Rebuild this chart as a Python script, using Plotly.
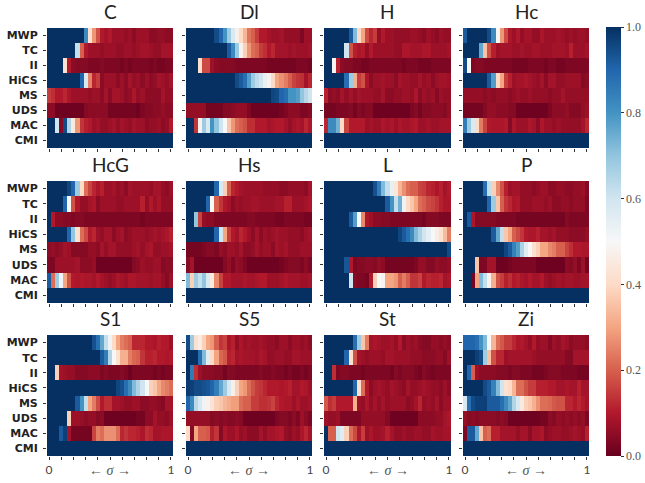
import plotly.graph_objects as go

rows = ["MWP", "TC", "II", "HiCS", "MS", "UDS", "MAC", "CMI"]
titles = ["C", "Dl", "H", "Hc", "HcG", "Hs", "L", "P", "S1", "S5", "St", "Zi"]
colorbar_ticks = [0.0, 0.2, 0.4, 0.6, 0.8, 1.0]
cmi = [100] * 31

# values in percent, one list per row (CMI is solid 1.0 in every panel)
C = [
 [100]*9 + [82,42,28,18,10,8,10,7,7,7,6,7,5,7,7,7,5,5,6,6,5,5],
 [100]*7 + [62,20,10,7,7,7,6,7,7,7,6,6,7,7,6,7,8,8,7,6,6,8,8,8],
 [100]*4 + [42,10,5,4,4,4,3,3,3,4,3,3,3,3,2,3,2,3,3,3,3,2,3,2,2,3,3],
 [100]*8 + [90,58,25,12,15,5,7,7,7,5,7,5,8,6,7,5,7,5,6,8,7,6,8],
 [15,13,10,10,12,9,7,7,7,7,6,7,7,5,8,5,8,8,7,5,6,9,6,7,5,5,5,5,8,6,6],
 [5,5,1,1,1,1,1,1,1,4,5,5,5,5,5,2,2,2,2,2,2,2,1,3,4,4,5,5,6,5,5],
 [100,100,60,4,95,65,45,28,14,11,10,7,8,6,6,7,8,6,8,7,6,8,7,7,5,6,6,7,5,6,10],
 cmi]
Dl = [
 [100]*7 + [95,90,80,68,58,47,40,33,23,20,15,10,10,8,7,7,8,6,6,6,6,3,7,7],
 [100]*10 + [92,82,68,48,38,28,22,20,15,13,10,12,8,8,8,7,8,7,7,7,8],
 [100]*3 + [42,17,17,7,5,4,4,4,4,3,3,3,3,3,3,3,3,2,2,2,2,2,2,2,3,3,3,2],
 [100]*12 + [95,92,88,78,68,63,60,54,48,40,30,27,24,20,16,14,13,8,12],
 [100]*21 + [96,95,90,88,80,80,78,70,64,60],
 [6,6,6,6,6,2,2,2,2,4,4,5,6,6,6,3,1,1,1,1,1,1,1,2,3,5,5,5,3,3,4],
 [100,100,14,48,68,58,80,70,60,50,36,28,22,20,18,13,13,10,10,10,8,9,10,10,8,6,8,9,8,12,9],
 cmi]
H = [
 [100]*6 + [92,72,40,30,17,12,15,6,10,7,7,6,6,6,6,7,7,6,5,7,6,5,7,6,6],
 [100]*5 + [60,18,11,9,10,6,10,7,7,7,7,7,6,6,9,9,8,8,8,9,9,7,7,7,7,8],
 [100]*2 + [49,11,5,4,4,3,3,2,2,3,3,3,3,3,3,3,3,2,3,3,3,2,2,2,3,3,3,3,3],
 [100]*5 + [88,68,32,15,18,9,5,7,7,8,7,7,5,8,7,7,6,6,8,6,7,5,7,8,8,7],
 [11,5,6,5,8,6,8,6,8,7,7,7,6,6,8,5,5,6,6,7,7,6,9,5,7,6,7,4,7,6,6],
 [2,2,2,3,3,3,4,2,4,3,4,4,1,1,1,1,1,1,1,1,1,3,4,2,4,4,5,5,5,4,6],
 [12,82,82,74,40,16,10,10,10,10,7,8,7,7,9,8,9,7,9,8,8,9,10,7,7,8,7,7,8,8,8],
 cmi]
Hc = [
 [92,100,100,100,100,100,95,82,50,28,17,9,7,10,6,8,8,6,6,9,7,7,7,8,7,6,7,6,7,7,6],
 [100]*4 + [76,35,18,11,7,8,8,8,7,7,8,7,7,8,8,7,7,7,8,8,8,7,11,7,7,7,8],
 [95,50,3,4,4,3,3,3,3,3,3,3,2,2,2,2,3,3,3,3,2,3,3,2,2,3,3,3,3,3,3],
 [100]*6 + [92,78,40,30,15,11,7,8,8,9,8,7,6,8,5,8,8,6,6,7,7,7,7,4,5],
 [6,6,6,6,6,5,6,5,6,6,6,5,6,7,6,6,7,6,6,6,6,5,6,6,8,6,6,6,6,6,6],
 [2,2,2,2,2,4,6,6,5,5,5,4,4,1,1,1,1,1,1,1,1,3,5,5,5,6,4,4,4,6,7],
 [85,68,58,40,24,16,10,9,9,9,10,4,9,7,7,7,9,8,5,9,7,7,6,7,6,6,6,6,6,8,12],
 cmi]
HcG = [
 [100]*5 + [96,90,68,40,22,16,12,9,11,7,7,8,6,7,5,8,7,7,7,7,6,8,8,6,5,7],
 [100]*4 + [90,50,18,10,6,6,8,9,5,7,7,7,7,6,6,7,7,7,7,11,6,10,7,9,6,6,6],
 [100,10,5,5,4,4,3,4,4,3,3,3,3,3,3,3,3,3,3,3,3,3,3,2,3,3,3,3,3,3,3],
 [100]*5 + [90,70,42,22,17,10,12,7,6,8,8,5,7,8,5,6,7,7,7,6,7,8,7,8,9,11],
 [5,6,5,6,8,7,4,4,4,4,6,6,5,8,6,8,8,6,6,6,6,7,8,6,8,9,6,6,7,7,8],
 [3,3,7,7,7,7,7,8,5,5,5,6,1,1,1,1,1,1,1,1,1,4,5,7,6,6,7,7,4,5,5],
 [92,22,68,52,30,18,10,9,10,9,9,8,10,8,7,6,7,9,8,7,9,9,8,8,8,7,8,8,6,4,7],
 cmi]
Hs = [
 [100]*7 + [90,58,38,20,12,10,8,7,7,7,7,7,6,6,6,6,5,5,6,6,6,6,5,8],
 [100]*5 + [90,50,20,14,10,8,5,7,6,7,7,8,8,7,7,7,7,8,8,11,11,7,7,7,8,9],
 [100,100,70,16,6,5,5,3,3,3,3,3,3,3,3,4,4,3,3,3,3,3,2,2,3,3,3,3,3,2,2],
 [100]*7 + [90,60,30,15,10,8,12,10,7,5,8,5,7,6,7,8,7,7,6,6,6,5,7,8],
 [2,2,2,2,3,4,4,3,6,5,7,7,6,8,5,5,6,8,6,7,7,5,8,7,8,6,6,6,7,7,7],
 [4,8,1,1,1,1,1,1,1,4,6,3,6,5,3,1,1,1,1,1,1,1,1,2,3,4,4,4,3,5,3],
 [72,38,68,62,70,58,45,26,16,10,10,8,8,8,9,8,8,9,10,10,7,7,7,8,9,8,8,8,7,7,8],
 cmi]
L = [
 [100]*12 + [94,85,72,62,54,44,33,27,22,20,20,16,15,12,11,9,11,8,10],
 [100]*15 + [92,80,62,74,52,40,36,30,22,20,17,16,14,11,9,9],
 [100]*6 + [92,78,50,26,9,7,5,5,4,4,3,3,3,3,3,3,3,3,2,4,4,4,3,3,3],
 [100]*18 + [96,92,88,82,72,66,60,55,50,46,42,34,24],
 [100]*30 + [95],
 [100]*5 + [93,10,3,4,4,5,5,4,6,5,2,2,2,2,2,2,2,3,6,6,4,4,6,5,5,6],
 [100]*6 + [60,4,3,3,2,10,38,50,48,30,30,28,20,24,20,14,14,16,10,12,11,11,12,8,9],
 cmi]
P = [
 [100]*5 + [88,62,38,26,18,11,7,8,8,6,6,6,5,6,7,7,5,5,6,6,5,5,6,6,7,4],
 [100]*6 + [90,68,36,20,14,12,9,10,6,6,6,7,7,7,6,7,5,5,6,6,5,6,6,6,3],
 [100,92,9,4,4,4,4,4,3,3,3,3,3,2,2,2,2,2,2,2,2,2,2,2,2,4,3,3,3,3,3],
 [100]*7 + [92,76,62,36,30,20,17,14,10,9,9,11,8,8,7,8,6,6,6,5,5,5,5,6],
 [100]*10 + [96,92,84,78,66,56,50,42,38,30,30,26,24,20,20,16,13,10,10,9,9],
 [100]*3 + [36,3,3,8,8,1,1,1,2,3,3,3,3,3,3,1,1,1,1,1,1,1,5,4,6,3,7,2],
 [100,100,2,30,72,62,48,32,18,15,11,13,10,11,9,8,10,8,8,10,7,6,7,8,7,8,8,7,7,8,8],
 cmi]
S1 = [
 [100]*11 + [94,88,76,62,52,40,30,24,22,20,12,12,12,10,10,9,11,10,10,7],
 [100]*13 + [92,85,65,50,42,32,32,24,21,20,14,11,11,12,10,10,9,10],
 [100,100,38,8,7,6,6,4,4,4,5,5,5,3,4,3,3,3,4,3,1,3,3,3,3,3,2,3,2,3,3],
 [100]*17 + [96,94,88,82,72,66,60,50,38,36,30,26,24,22],
 [100]*7 + [92,80,62,30,24,17,10,13,13,8,8,7,6,6,7,7,5,5,6,6,5,4,8,8],
 [100]*5 + [38,7,7,6,5,6,6,4,5,1,1,1,1,1,1,1,1,2,2,5,5,8,6,6,5,7],
 [100,100,100,92,97,8,2,2,2,2,2,16,24,22,27,27,27,22,12,14,12,12,11,9,13,12,8,8,9,9,9],
 cmi]
S5 = [
 [95,68,42,46,38,30,28,20,14,16,9,11,6,9,7,8,7,7,8,7,6,6,5,7,7,5,7,7,6,7,5],
 [100,100,100,88,72,56,40,30,21,19,11,12,8,9,8,8,8,7,9,8,6,6,7,7,6,6,8,8,7,7,7],
 [100,85,13,7,5,5,5,4,4,2,4,4,3,3,3,3,3,3,4,3,3,4,3,3,2,3,2,2,3,2,3],
 [98,97,95,95,94,93,90,85,76,68,58,47,38,30,28,22,18,15,14,12,10,10,10,9,10,11,8,8,10,9,7],
 [90,82,64,58,52,48,43,38,36,33,31,29,29,22,20,20,15,15,13,13,14,16,12,10,9,9,7,9,7,7,8],
 [6,6,6,6,6,6,4,5,4,5,4,4,5,4,1,1,1,1,1,1,1,1,3,4,4,3,5,3,7,5,3],
 [40,4,30,20,20,19,11,14,4,9,7,7,9,6,7,5,5,5,8,6,8,8,9,10,6,5,7,6,9,12,8],
 cmi]
St = [
 [100]*7 + [88,68,36,24,8,9,8,7,7,8,6,10,5,7,6,7,5,4,4,6,6,5,6,5],
 [100]*5 + [90,42,18,8,7,6,7,7,7,6,8,8,7,7,7,7,6,6,6,5,5,5,6,6,4,7],
 [100,100,13,3,4,4,3,3,3,2,3,3,3,3,3,3,2,4,3,4,4,4,3,2,4,3,2,3,3,3,3],
 [100]*7 + [90,42,22,10,5,7,8,7,6,8,7,6,5,8,6,6,7,8,7,6,6,5,7,5],
 [19,13,15,10,10,10,10,32,7,6,9,6,8,6,8,6,7,7,7,7,5,6,8,12,6,7,6,8,5,7,7],
 [7,6,6,7,3,3,3,3,3,6,6,6,6,6,6,4,1,1,1,1,1,1,1,5,5,5,5,6,6,8,9],
 [100,20,20,60,56,38,22,17,9,15,7,9,7,7,8,11,8,6,6,7,6,6,7,7,6,6,8,7,7,8,8],
 cmi]
Zi = [
 [90,90,90,88,80,72,50,33,22,19,15,15,12,9,10,8,6,10,6,7,7,4,7,6,8,7,5,6,6,6,5],
 [100,100,100,97,95,68,35,18,12,12,7,8,8,8,8,8,8,7,6,6,6,6,6,6,6,4,4,8,8,8,8],
 [100,90,20,7,5,5,5,5,4,4,4,3,4,4,3,3,3,2,2,2,3,4,4,4,3,3,3,3,2,2,2],
 [100,100,100,100,100,95,92,84,72,60,42,40,33,22,22,18,15,15,11,11,11,10,10,8,8,9,8,8,11,8,8],
 [58,88,95,97,97,97,92,92,92,88,82,76,65,58,45,38,36,32,27,22,22,21,19,18,18,12,12,10,12,10,8],
 [6,4,5,4,5,5,5,5,4,5,4,1,1,1,1,1,1,1,1,2,2,5,4,6,5,6,5,6,5,6,3],
 [3,92,92,76,36,20,22,11,11,8,8,8,8,6,8,8,5,8,8,9,5,6,7,7,6,6,7,8,7,6,11],
 cmi]
panels = [C, Dl, H, Hc, HcG, Hs, L, P, S1, S5, St, Zi]

W, H_FIG = 645, 483
col_x = [(47, 173), (186, 312), (324, 451), (463, 589)]
row_y = [(28, 148), (181, 303), (335, 456)]
RDBU = [[0.0, "#67001f"], [0.1, "#b2182b"], [0.2, "#d6604d"], [0.3, "#f4a582"], [0.4, "#fddbc7"],
        [0.5, "#f7f7f7"], [0.6, "#d1e5f0"], [0.7, "#92c5de"], [0.8, "#4393c3"], [0.9, "#2166ac"], [1.0, "#053061"]]

fig = go.Figure()
xvals = list(range(0, 31, 3))
annotations = []
for i, (title, panel) in enumerate(zip(titles, panels)):
    r, c = divmod(i, 4)
    n = i + 1
    sfx = "" if n == 1 else str(n)
    x0, x1 = col_x[c]
    y0, y1 = row_y[r]
    fig.add_trace(go.Heatmap(z=[[v / 100 for v in row] for row in panel], x=list(range(31)), y=rows,
                             coloraxis="coloraxis", xaxis="x" + sfx, yaxis="y" + sfx, xgap=0, ygap=0))
    bottom = r == 2
    ticktext = [""] * 11
    if bottom:
        ticktext[0], ticktext[-1] = "0", "1"
    fig.layout["xaxis" + sfx] = dict(domain=[x0 / W, x1 / W], range=[-0.5, 30.5], anchor="y" + sfx,
                                     tickmode="array", tickvals=xvals, ticktext=ticktext, ticks="outside",
                                     ticklen=3, tickwidth=1, tickcolor="#333", showgrid=False, zeroline=False,
                                     tickfont=dict(family="Lato", size=12, color="#444"),
                                     showticklabels=bottom, fixedrange=True, automargin=False)
    fig.layout["yaxis" + sfx] = dict(domain=[1 - y1 / H_FIG, 1 - y0 / H_FIG], autorange="reversed",
                                     anchor="x" + sfx, ticks="outside", ticklen=3, tickwidth=1, tickcolor="#333",
                                     showgrid=False, zeroline=False, showticklabels=c == 0, ticklabelstandoff=3,
                                     tickfont=dict(family="DejaVu Sans", size=11, color="#222", weight="bold"),
                                     tickmode="array", tickvals=rows, ticktext=rows, fixedrange=True, automargin=False)
    annotations.append(dict(text=title, x=(x0 + x1) / 2 / W, y=1 - (y0 - 3) / H_FIG, xref="paper", yref="paper",
                            xanchor="center", yanchor="bottom", showarrow=False,
                            font=dict(family="Lato", size=19, color="#222")))
    if bottom:
        annotations.append(dict(text="← <i>σ</i> →", x=(x0 + x1) / 2 / W, y=1 - 470 / H_FIG, xref="paper", yref="paper",
                                xanchor="center", yanchor="middle", showarrow=False,
                                font=dict(family="Liberation Serif", size=14, color="#555")))

fig.update_layout(
    width=W, height=H_FIG, margin=dict(l=0, r=0, t=0, b=0, autoexpand=False), paper_bgcolor="white", plot_bgcolor="white",
    showlegend=False, annotations=annotations,
    coloraxis=dict(colorscale=RDBU, cmin=0, cmax=1, colorbar=dict(
        x=606 / W, xanchor="left", xref="paper", y=1 - 456 / H_FIG, yanchor="bottom", yref="paper",
        len=(456 - 27) / H_FIG, lenmode="fraction", thickness=15, thicknessmode="pixels",
        outlinewidth=0, ticks="outside", ticklen=3, tickwidth=1, tickcolor="#333", xpad=0, ypad=0,
        tickmode="array", tickvals=colorbar_ticks, ticktext=[f"{v:.1f}" for v in colorbar_ticks],
        tickfont=dict(family="Liberation Serif", size=12, color="#555"))),
)
fig.write_html("out.html", config={"displayModeBar": False}, post_script="document.body.style.margin='0';")
